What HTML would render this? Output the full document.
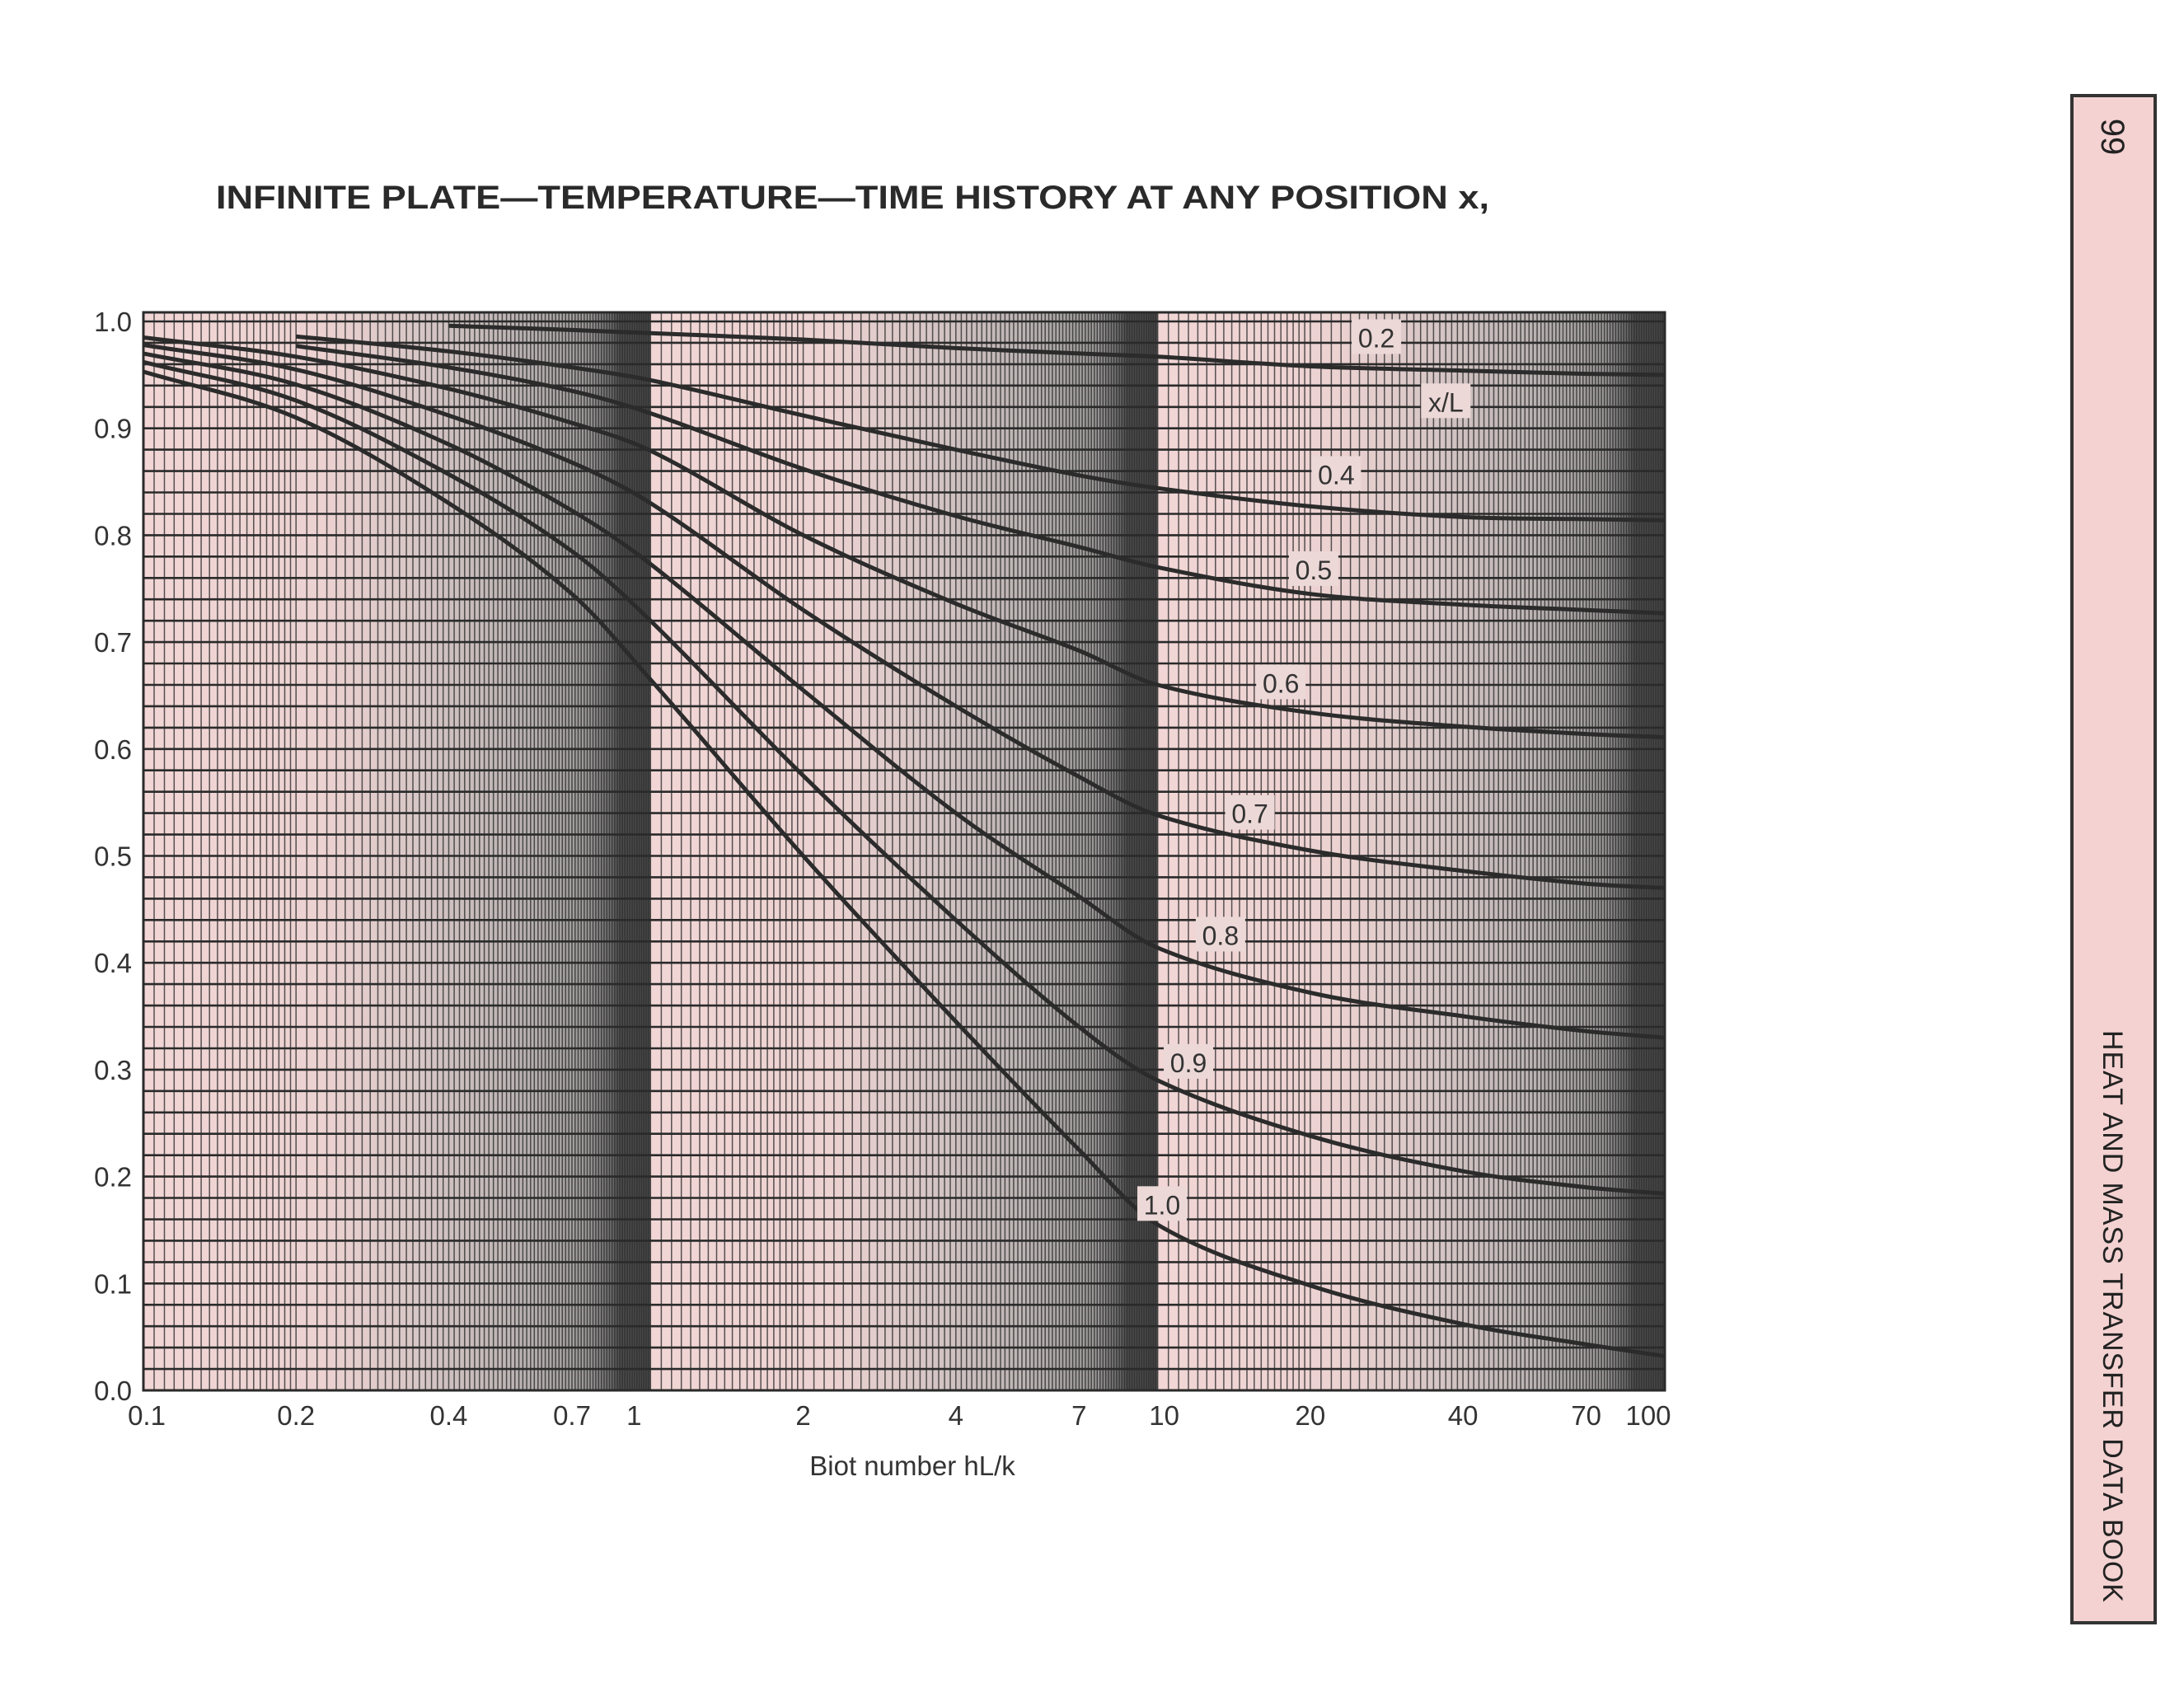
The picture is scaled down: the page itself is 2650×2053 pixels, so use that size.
<!DOCTYPE html>
<html><head><meta charset="utf-8">
<style>
html,body{margin:0;padding:0;background:#fff;}
body{width:2650px;height:2048px;position:relative;overflow:hidden;font-family:"Liberation Sans",Arial,sans-serif;}
</style></head>
<body>
<svg id="chart" width="2650" height="2048" viewBox="0 0 2650 2048" xmlns="http://www.w3.org/2000/svg">
<defs>
<linearGradient id="dec" x1="0" x2="1" y1="0" y2="0">
<stop offset="0" stop-color="#f1d6d5"/>
<stop offset="0.35" stop-color="#ecd2d1"/>
<stop offset="0.55" stop-color="#d6c6c5"/>
<stop offset="0.75" stop-color="#bab2b2"/>
<stop offset="0.88" stop-color="#9c9898"/>
<stop offset="0.925" stop-color="#6a6a6a"/>
<stop offset="0.94" stop-color="#4c4c4c"/>
<stop offset="1" stop-color="#484848"/>
</linearGradient>
</defs>
<text x="262" y="253" font-size="40" font-weight="bold" fill="#2a2a2a" textLength="1545" lengthAdjust="spacingAndGlyphs">INFINITE PLATE—TEMPERATURE—TIME HISTORY AT ANY POSITION x,</text>
<g id="bg"></g>
<g id="grid"></g>
<g id="curves"></g>
<g id="labels"></g>
<g id="axes"></g>
<g>
<rect x="2514" y="116" width="101" height="1853" fill="#f3d2d1" stroke="#333" stroke-width="4"/>
<text transform="translate(2550,166) rotate(90)" font-size="40" fill="#222" text-anchor="middle">99</text>
<text transform="translate(2552,1250) rotate(90)" font-size="34" fill="#222" textLength="694">HEAT AND MASS TRANSFER DATA BOOK</text>
</g>
</svg>
<script>
const categories=[0.1,0.2,0.4,0.7,1,2,4,7,10,20,40,70,100];
const seriesNames=["0.2","0.4","0.5","0.6","0.7","0.8","0.9","1.0"];
const s02=[null,null,0.996,0.992,0.989,0.983,0.975,0.970,0.967,0.958,0.954,0.951,0.950];
const s04=[null,0.986,0.972,0.957,0.945,0.912,0.880,0.856,0.844,0.827,0.817,0.815,0.814];
const s05=[null,0.977,0.957,0.935,0.914,0.862,0.818,0.789,0.770,0.745,0.735,0.730,0.727];
const s06=[0.985,0.967,0.937,0.905,0.879,0.800,0.736,0.692,0.660,0.634,0.621,0.614,0.611];
const s07=[0.978,0.955,0.912,0.868,0.830,0.730,0.640,0.574,0.538,0.505,0.486,0.474,0.470];
const s08=[0.970,0.941,0.885,0.823,0.773,0.655,0.540,0.462,0.414,0.372,0.350,0.336,0.330];
const s09=[0.962,0.926,0.857,0.785,0.720,0.575,0.440,0.340,0.290,0.238,0.205,0.190,0.184];
const s10=[0.953,0.910,0.830,0.745,0.665,0.500,0.345,0.225,0.155,0.098,0.062,0.043,0.032];
const series=[s02,s04,s05,s06,s07,s08,s09,s10];
const labelBi=[27,22.5,20.3,17.5,15.2,13.3,11.5,10.2];
const labelVal=[0.985,0.857,0.768,0.662,0.54,0.426,0.307,0.174];
const yTicks=[0,0.1,0.2,0.3,0.4,0.5,0.6,0.7,0.8,0.9,1.0];
const xTicks=[0.1,0.2,0.4,0.7,1,2,4,7,10,20,40,70,100];

const X0=174,X1=2020,YT=379,YB=1687;
const xs=v=>X0+(Math.log10(v)+1)/3*(X1-X0);
const ys=v=>1687-v*(1687-390);
const NS="http://www.w3.org/2000/svg";
function mk(tag,attrs,parent){const e=document.createElementNS(NS,tag);for(const k in attrs)e.setAttribute(k,attrs[k]);parent.appendChild(e);return e;}
const bg=document.getElementById('bg'),grid=document.getElementById('grid'),cur=document.getElementById('curves'),lab=document.getElementById('labels'),ax=document.getElementById('axes');
for(let d=0;d<3;d++){
  const a=xs(Math.pow(10,d-1)),b=xs(Math.pow(10,d));
  const r=mk('rect',{x:a,y:YT,width:b-a,height:YB-YT,fill:'url(#dec)'},bg);
  
  
}
let vp='';
for(let d=-1;d<2;d++){
  const m=Math.pow(10,d);
  for(let t=1;t<10-1e-9;){
    const step=t<2?0.05:0.1;
    const x=xs(t*m);vp+=`M${x.toFixed(1)} ${YT}V${YB}`;
    t=Math.round((t+step)*100)/100;
  }
}
const vg=mk('path',{d:vp,stroke:'#2e2e2e','stroke-width':1.5,fill:'none',opacity:0.8},grid);


let hp='';
for(let i=0;i<=50;i++){const y=ys(i*0.02);hp+=`M${X0} ${y.toFixed(1)}H${X1}`;}
hp+=`M${X0} ${YT}H${X1}`;
const hg=mk('path',{d:hp,stroke:'#2a2a2a','stroke-width':2.6,fill:'none'},grid);


series.forEach((s,si)=>{
  const pts=[];categories.forEach((c,i)=>{if(s[i]!==null)pts.push([xs(c),ys(s[i])]);});
  const n=pts.length,m=[];
  for(let i=0;i<n;i++){
    const a=pts[Math.max(0,i-1)],b=pts[Math.min(n-1,i+1)];
    m.push((b[1]-a[1])/(b[0]-a[0]));
  }
  let d=`M${pts[0][0].toFixed(1)} ${pts[0][1].toFixed(1)}`;
  for(let i=0;i<n-1;i++){
    const h=pts[i+1][0]-pts[i][0];
    const c1=[pts[i][0]+h/3,pts[i][1]+m[i]*h/3],c2=[pts[i+1][0]-h/3,pts[i+1][1]-m[i+1]*h/3];
    d+=`C${c1[0].toFixed(1)} ${c1[1].toFixed(1)} ${c2[0].toFixed(1)} ${c2[1].toFixed(1)} ${pts[i+1][0].toFixed(1)} ${pts[i+1][1].toFixed(1)}`;
  }
  const p=mk('path',{d:d,stroke:'#2b2b2b','stroke-width':5,fill:'none'},cur);
  
  
});
function boxLabel(txt,x,y,name){
  const r=mk('rect',{x:x-30,y:y-22,width:60,height:42,fill:'#ecd8d7'},lab);
  
  
  const t=mk('text',{x:x,y:y+12,'font-size':32,'text-anchor':'middle',fill:'#333'},lab);
  t.textContent=txt;
  
  
}
labelBi.forEach((b,i)=>boxLabel(seriesNames[i],xs(b),ys(labelVal[i]),'label-xl-'+seriesNames[i]));
boxLabel('x/L',xs(37),ys(0.925),'label-xl-title');
const fr=mk('rect',{x:X0,y:YT,width:X1-X0,height:YB-YT,fill:'none',stroke:'#2a2a2a','stroke-width':3},ax);


yTicks.forEach(v=>{
  const t=mk('text',{x:160,y:ys(v)+12,'font-size':33,'text-anchor':'end',fill:'#333'},ax);
  t.textContent=v.toFixed(1);
  
  
});
xTicks.forEach(v=>{
  let x=xs(v);if(v===100)x-=20;if(v===0.1)x+=4;if(v===1)x-=20;if(v===10)x+=8;
  const t=mk('text',{x:x,y:1729,'font-size':33,'text-anchor':'middle',fill:'#333'},ax);
  t.textContent=String(v);
  
  
});
const xt=mk('text',{x:1107,y:1790,'font-size':33,'text-anchor':'middle',fill:'#333'},ax);
xt.textContent='Biot number hL/k';


</script>
</body></html>
